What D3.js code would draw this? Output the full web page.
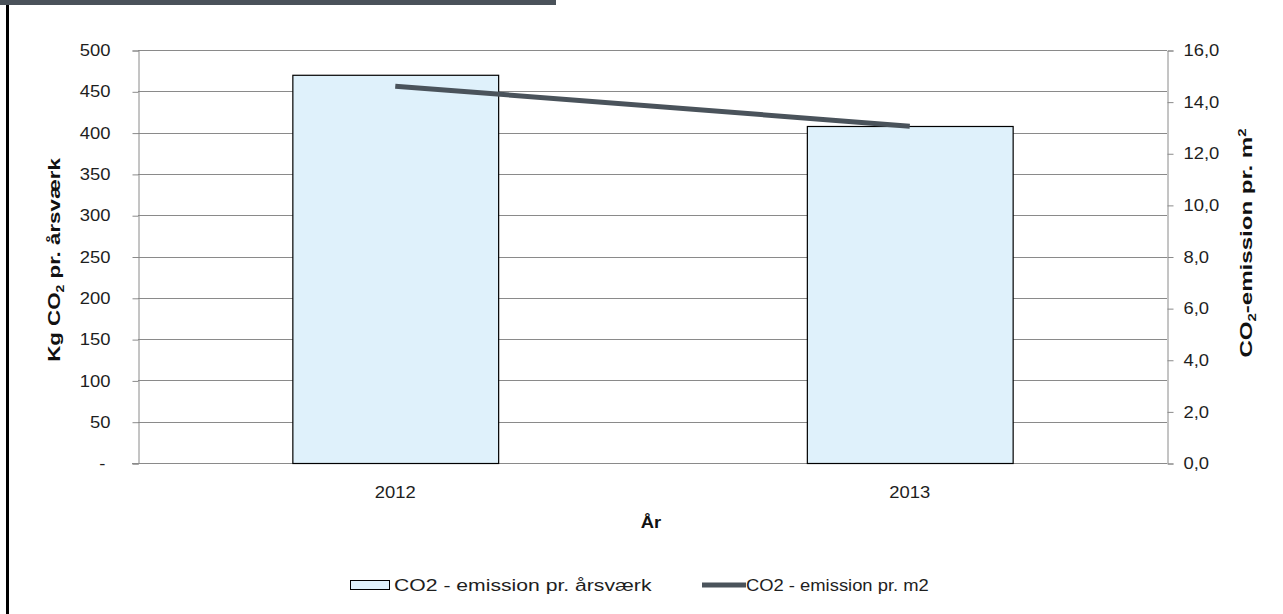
<!DOCTYPE html>
<html>
<head>
<meta charset="utf-8">
<script src="https://cdn.jsdelivr.net/npm/d3@7"></script>
<style>
  body { margin: 0; background: #fff; }
  svg { display: block; font-family: "Liberation Sans", Arial, sans-serif; }
</style>
</head>
<body>
<svg id="chart" width="1283" height="614"></svg>
<script>
// Data
const years = ["2012", "2013"];
const perFTE = [470, 408];          // kg CO2 per årsværk (bars, left axis)
const perM2 = [14.6, 13.05];        // CO2 per m2 (line, right axis)
const leftTicks = [0, 50, 100, 150, 200, 250, 300, 350, 400, 450, 500];
const rightTicks = [0, 2, 4, 6, 8, 10, 12, 14, 16];

const svg = d3.select("#chart");
const plot = { left: 138, right: 1167, top: 50, bottom: 463 };
const WIDE = 1.15;   // horizontal stretch of the typeface
const grid = "#8a8a8a", ink = "#1e1e1e", barFill = "#dff1fb", lineCol = "#4a535b";

// Frame pieces: dark title strip and left border
svg.append("rect").attr("x", 0).attr("y", 0).attr("width", 556).attr("height", 5).attr("fill", "#4a525a");
svg.append("rect").attr("x", 6).attr("y", 5).attr("width", 3).attr("height", 609).attr("fill", "#000");

const x = d3.scaleBand().domain(years).range([plot.left, plot.right]).paddingInner(0.6).paddingOuter(0.3);
const xc = d3.scalePoint().domain(years).range([plot.left, plot.right]).padding(0.5);
const yL = d3.scaleLinear().domain([0, 500]).range([plot.bottom, plot.top]);
const yR = d3.scaleLinear().domain([0, 16]).range([plot.bottom, plot.top]);

// Gridlines
svg.append("g").selectAll("line").data(leftTicks.filter(d => d > 0)).join("line")
  .attr("x1", plot.left).attr("x2", plot.right)
  .attr("y1", d => Math.round(yL(d)) + 0.5).attr("y2", d => Math.round(yL(d)) + 0.5)
  .attr("stroke", grid).attr("stroke-width", 1);

// Left axis
const gL = svg.append("g").attr("transform", `translate(${plot.left + 0.5},0.5)`)
  .call(d3.axisLeft(yL).tickValues(leftTicks).tickSize(6)
    .tickFormat(d => d === 0 ? "-" : d3.format("d")(d)));
gL.selectAll("path, line").attr("stroke", grid);
gL.selectAll("text")
  .attr("font-size", 16).attr("fill", ink).attr("font-family", "Liberation Sans, Arial, sans-serif")
  .attr("x", d => (d === 0 ? -33 : -28) / WIDE)
  .attr("transform", `scale(${WIDE},1)`);

// Right axis
const gR = svg.append("g").attr("transform", `translate(${plot.right + 0.5},0.5)`)
  .call(d3.axisRight(yR).tickValues(rightTicks).tickSize(6)
    .tickFormat(d => d3.format(".1f")(d).replace(".", ",")));
gR.selectAll("path, line").attr("stroke", grid);
gR.selectAll("text")
  .attr("font-size", 16).attr("fill", ink).attr("font-family", "Liberation Sans, Arial, sans-serif")
  .attr("x", 16 / WIDE)
  .attr("transform", `scale(${WIDE},1)`);

// Bottom baseline
svg.append("line").attr("x1", plot.left - 6).attr("x2", plot.right)
  .attr("y1", Math.round(yL(0)) + 0.5).attr("y2", Math.round(yL(0)) + 0.5)
  .attr("stroke", grid);

// Bars
svg.append("g").selectAll("rect").data(years).join("rect")
  .attr("x", d => x(d) + 0.5).attr("width", x.bandwidth())
  .attr("y", (d, i) => yL(perFTE[i]) + 0.5).attr("height", (d, i) => yL(0) - yL(perFTE[i]))
  .attr("fill", barFill).attr("stroke", "#000").attr("stroke-width", 1.2);

// Line series
const line = d3.line().x((d, i) => xc(years[i])).y(d => yR(d));
svg.append("path").datum(perM2).attr("d", line)
  .attr("fill", "none").attr("stroke", lineCol).attr("stroke-width", 5);

// Category labels
svg.append("g").selectAll("text").data(years).join("text")
  .attr("transform", d => `translate(${xc(d)},498) scale(${WIDE},1)`)
  .attr("text-anchor", "middle")
  .attr("font-size", 16).attr("fill", ink).text(d => d);

// Stretch a text element along its baseline so it spans a given length
function fitLength(sel, target) {
  const w = sel.node().getBBox().width;
  return target / w;
}

// Axis titles
svg.append("text").attr("transform", `translate(651,528) scale(${WIDE},1)`).attr("text-anchor", "middle")
  .attr("font-size", 16).attr("font-weight", "bold").attr("fill", "#111").text("År");

const tl = svg.append("text").attr("text-anchor", "middle")
  .attr("font-size", 16).attr("font-weight", "bold").attr("fill", "#111");
tl.append("tspan").text("Kg CO");
tl.append("tspan").attr("font-size", 10).attr("dy", 4).text("2");
tl.append("tspan").attr("dy", -4).text(" pr. årsværk");
tl.attr("transform", `translate(60,260) rotate(-90) scale(${fitLength(tl, 204)},1)`);

const tr = svg.append("text").attr("text-anchor", "middle")
  .attr("font-size", 16).attr("font-weight", "bold").attr("fill", "#111");
tr.append("tspan").text("CO");
tr.append("tspan").attr("font-size", 10).attr("dy", 4).text("2");
tr.append("tspan").attr("dy", -4).text("-emission pr. m");
tr.append("tspan").attr("font-size", 10).attr("dy", -6).text("2");
tr.attr("transform", `translate(1252,243) rotate(-90) scale(${fitLength(tr, 230)},1)`);

// Legend
const lg = svg.append("g");
lg.append("rect").attr("x", 350.5).attr("y", 580.5).attr("width", 39).attr("height", 9)
  .attr("fill", barFill).attr("stroke", "#000").attr("stroke-width", 1);
const l1 = lg.append("text").attr("font-size", 16).attr("fill", ink).text("CO2 - emission pr. årsværk");
l1.attr("transform", `translate(394,591) scale(${fitLength(l1, 259)},1)`);
lg.append("line").attr("x1", 702).attr("x2", 746).attr("y1", 585).attr("y2", 585)
  .attr("stroke", lineCol).attr("stroke-width", 5);
const l2 = lg.append("text").attr("font-size", 16).attr("fill", ink).text("CO2 - emission pr. m2");
l2.attr("transform", `translate(746,591) scale(${fitLength(l2, 183)},1)`);
</script>
</body>
</html>
